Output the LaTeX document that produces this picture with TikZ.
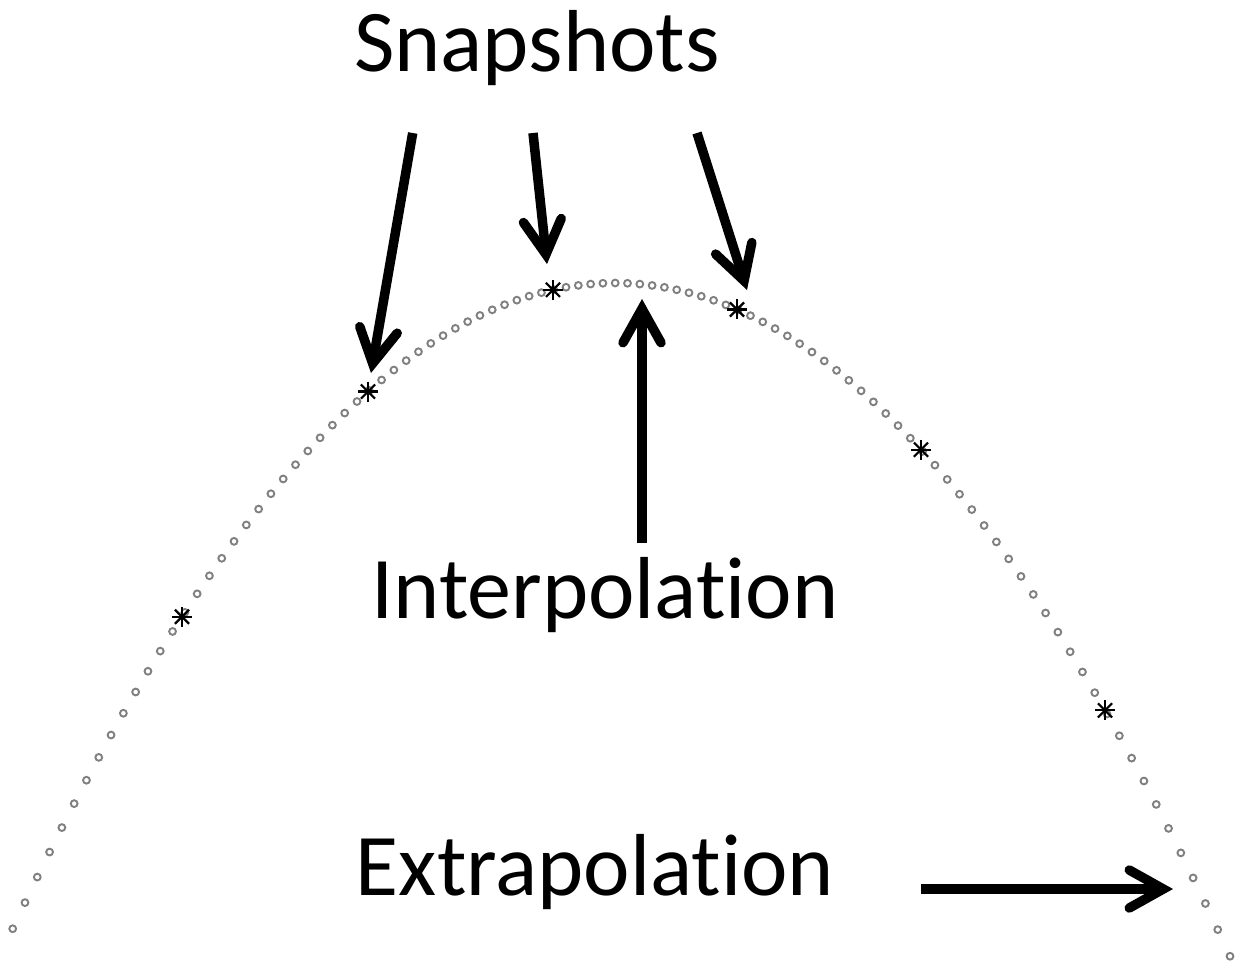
\documentclass[tikz,border=0pt]{standalone}
\usepackage{fontspec}
\setmainfont{Carlito}[Ligatures=NoCommon]
\usetikzlibrary{arrows.meta}
\begin{document}
\begin{tikzpicture}[x=1pt,y=-1pt,
  caption/.style={font=\fontsize{88}{100}\selectfont, inner sep=0pt, anchor=base},
  sample/.style={circle, draw=black!50, fill=white, line width=1.9pt, minimum size=6.8pt, inner sep=0pt},
  snapmark/.style={circle, inner sep=0pt, minimum size=22pt,
    path picture={\foreach \a in {0,45,90,135}
      {\draw[line width=2.2pt] (path picture bounding box.center) ++(\a:10pt) -- ++(\a+180:20pt);}}},
  bigarrow/.style={line width=9.5pt,
    -{Straight Barb[length=34pt,width=38pt,line cap=round,line join=miter]}}
]
\useasboundingbox[fill=white] (0,0) rectangle (1241,963);

% trajectory samples: y = 283 + 0.00178 (x-615)^2
\foreach \k in {0,...,99}{
  \pgfmathsetmacro\px{12.7+12.296*\k}
  \pgfmathsetmacro\py{283+17.8*((\px-615)/100)^2}
  \node[sample] (c\k) at (\px,\py) {};
}

% snapshots on the trajectory
\foreach \i/\sx in {1/182,2/368,3/553,4/737,5/921,6/1105}{
  \pgfmathsetmacro\sy{283+17.8*((\sx-615)/100)^2}
  \node[snapmark] (s\i) at (\sx,\sy) {};
}

% labels
\node[caption] (snap) at (537,72) {Snapshots};
\node[caption] (interp) at (605,618) {Interpolation};
\node[caption] (extrap) at (595,895) {Extrapolation};

% arrow ends
\coordinate (a1) at (412.7,133);
\coordinate (b1) at (371,373);
\coordinate (a2) at (533,133);
\coordinate (b2) at (547,264);
\coordinate (a3) at (697,133);
\coordinate (b3) at (747,290);
\coordinate (a4) at (642,543);
\coordinate (b4) at (642,299);
\coordinate (a5) at (921,889);
\coordinate (b5) at (1173,889);

\draw[bigarrow] (a1) -- (b1);
\draw[bigarrow] (a2) -- (b2);
\draw[bigarrow] (a3) -- (b3);
\draw[bigarrow] (a4) -- (b4);
\draw[bigarrow] (a5) -- (b5);
\end{tikzpicture}
\end{document}
